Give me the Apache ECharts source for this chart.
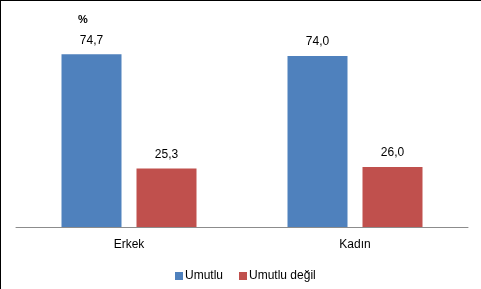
<!DOCTYPE html>
<html>
<head>
<meta charset="utf-8">
<script src="https://cdn.jsdelivr.net/npm/echarts@6/dist/echarts.min.js"></script>
<style>
html,body{margin:0;padding:0;background:#fff;}
#c{width:481px;height:289px;}
</style>
</head>
<body>
<div id="c"></div>
<script>
const categories = ['Erkek', 'Kadın'];
const seriesNames = ['Umutlu', 'Umutlu değil'];
const umutlu = [74.7, 74.0];
const umutluDegil = [25.3, 26.0];
const unitLabel = '%';

const chart = echarts.init(document.getElementById('c'), null, {renderer: 'canvas'});
const font = 'Liberation Sans, Arial, sans-serif';
const lbl = {
  show: true, position: 'top', distance: 8,
  color: '#000', fontFamily: font, fontSize: 12,
  formatter: p => p.value.toFixed(1).replace('.', ',')
};
chart.setOption({
  animation: false,
  backgroundColor: '#fff',
  textStyle: {fontFamily: font},
  grid: {left: 16, right: 13, top: 42, bottom: 62, containLabel: false},
  legend: {
    data: seriesNames,
    left: 175, top: 270, padding: 0,
    icon: 'rect', itemWidth: 8, itemHeight: 8, itemGap: 16,
    textStyle: {fontFamily: font, fontSize: 12, color: '#000', padding: [0, 0, 0, -3]}
  },
  xAxis: {
    type: 'category', data: categories,
    axisLine: {lineStyle: {color: '#8c8c8c', width: 1}},
    axisTick: {show: false},
    axisLabel: {color: '#000', fontFamily: font, fontSize: 12, margin: 12}
  },
  yAxis: {type: 'value', min: 0, max: 80, show: false, splitLine: {show: false}},
  graphic: [
    {type: 'line', shape: {x1: 0.5, y1: 0, x2: 0.5, y2: 289}, style: {stroke: '#000', lineWidth: 1}},
    {type: 'line', shape: {x1: 0, y1: 0.5, x2: 481, y2: 0.5}, style: {stroke: '#000', lineWidth: 1}},
    {type: 'text', left: 78, top: 14, style: {text: unitLabel, font: 'bold 11px ' + font, fill: '#000'}}
  ],
  series: [
    {name: seriesNames[0], type: 'bar', data: umutlu, barWidth: 60, barGap: '25%',
     itemStyle: {color: '#4f81bd'}, label: lbl},
    {name: seriesNames[1], type: 'bar', data: umutluDegil, barWidth: 60, barGap: '25%',
     itemStyle: {color: '#c0504d'}, label: lbl}
  ]
});
</script>
</body>
</html>
